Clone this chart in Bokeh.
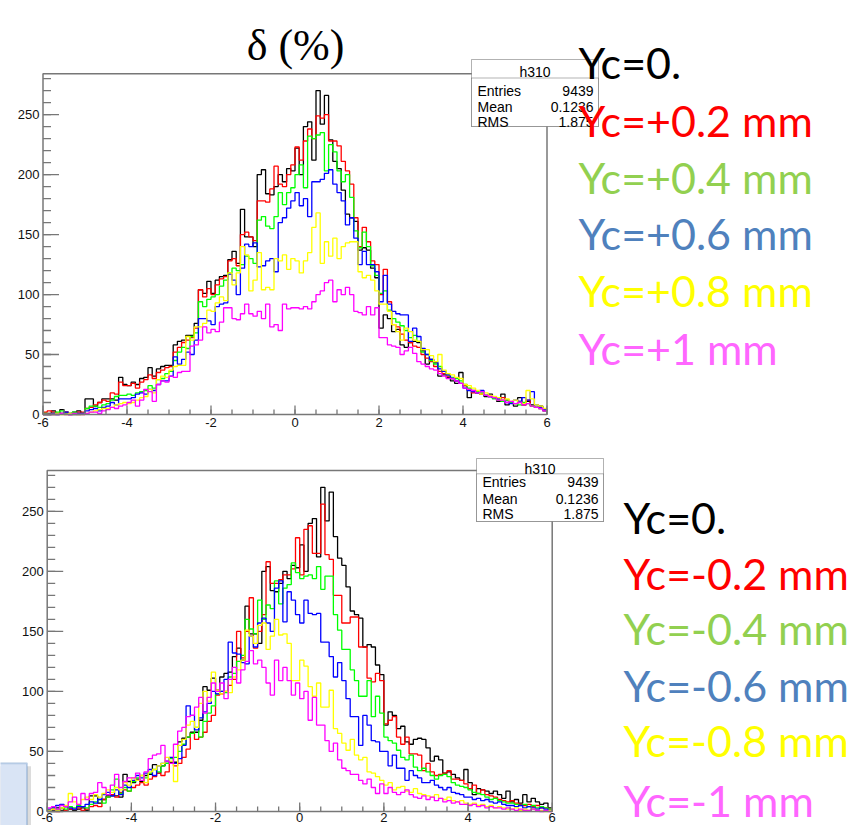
import numpy as np
from bokeh.plotting import figure
from bokeh.layouts import column
from bokeh.models import Label, BoxAnnotation, Range1d
from bokeh.core.properties import value
from bokeh.embed import file_html
from bokeh.resources import INLINE

# 120 bins of width 0.1 between -6 and 6 (delta in %)
X_MIN, X_MAX, Y_MAX = -6.0, 6.0, 284.0
bin_edges = np.round(np.linspace(X_MIN, X_MAX, 121), 2)

# ---- reference histogram h310 (Yc = 0), shared by both panels ----
yc_0 = [1, 1, 3, 1, 4, 2, 1, 2, 3, 1,
        13, 13, 7, 10, 13, 13, 13, 12, 31, 25,
        24, 27, 25, 30, 31, 39, 32, 38, 40, 41,
        41, 58, 61, 62, 66, 66, 76, 104, 101, 111,
        101, 112, 115, 116, 129, 136, 126, 171, 148, 148,
        140, 200, 204, 184, 183, 190, 200, 194, 205, 203,
        222, 200, 240, 244, 212, 270, 242, 266, 229, 211,
        205, 187, 167, 164, 161, 137, 139, 137, 122, 114,
        72, 83, 80, 69, 71, 58, 56, 60, 61, 60,
        53, 42, 46, 43, 32, 33, 31, 28, 26, 35,
        24, 14, 19, 18, 17, 15, 17, 14, 11, 17,
        8, 10, 7, 14, 8, 11, 8, 6, 7, 3]

# ---- positive offsets ----
yc_p02 = [2, 3, 2, 1, 1, 2, 0, 1, 2, 2,
          5, 6, 8, 10, 12, 11, 18, 17, 27, 24,
          24, 26, 22, 27, 29, 33, 30, 35, 37, 39,
          40, 52, 56, 60, 62, 64, 72, 104, 98, 105,
          100, 108, 113, 115, 128, 130, 124, 150, 152, 148,
          145, 178, 178, 177, 188, 207, 192, 190, 200, 208,
          223, 212, 228, 238, 230, 249, 247, 250, 228, 228,
          224, 211, 203, 192, 164, 140, 156, 144, 128, 125,
          100, 121, 94, 75, 73, 67, 62, 60, 57, 56,
          50, 47, 44, 40, 36, 34, 32, 30, 28, 26,
          24, 21, 18, 19, 17, 16, 15, 14, 12, 14,
          12, 10, 9, 11, 8, 12, 7, 6, 5, 4]

yc_p04 = [1, 0, 1, 2, 3, 1, 1, 2, 0, 1,
          5, 7, 7, 6, 8, 9, 12, 15, 16, 16,
          17, 16, 18, 19, 20, 24, 22, 29, 30, 34,
          36, 45, 52, 56, 55, 65, 68, 94, 90, 96,
          98, 100, 107, 112, 118, 122, 120, 125, 132, 130,
          126, 162, 165, 157, 155, 165, 185, 175, 185, 189,
          200, 208, 189, 232, 230, 233, 235, 203, 225, 219,
          203, 194, 200, 181, 153, 139, 152, 140, 124, 116,
          101, 103, 87, 80, 77, 74, 70, 64, 66, 61,
          52, 50, 45, 42, 40, 36, 33, 31, 30, 28,
          25, 22, 20, 19, 18, 16, 15, 13, 12, 11,
          12, 10, 9, 8, 10, 9, 7, 6, 5, 4]

yc_p06 = [0, 0, 1, 0, 1, 2, 0, 0, 1, 1,
          3, 4, 5, 3, 6, 7, 10, 8, 13, 13,
          13, 14, 17, 18, 17, 21, 20, 25, 28, 28,
          32, 48, 42, 46, 52, 50, 62, 80, 80, 78,
          75, 90, 92, 93, 117, 112, 100, 122, 142, 140,
          143, 123, 124, 128, 130, 119, 160, 164, 172, 178,
          185, 174, 180, 165, 194, 194, 196, 201, 204, 192,
          185, 178, 158, 164, 147, 125, 136, 125, 125, 119,
          94, 116, 92, 86, 84, 83, 83, 61, 72, 65,
          55, 50, 46, 44, 38, 36, 33, 30, 28, 26,
          22, 20, 19, 18, 20, 16, 15, 14, 13, 12,
          10, 9, 12, 11, 14, 12, 19, 8, 6, 4]

yc_p08 = [0, 0, 0, 1, 0, 0, 1, 0, 0, 0,
          1, 2, 3, 4, 5, 5, 6, 8, 9, 10,
          9, 10, 12, 14, 15, 21, 18, 29, 32, 31,
          37, 40, 41, 41, 65, 62, 73, 73, 76, 87,
          86, 93, 98, 95, 118, 108, 118, 140, 133, 103,
          112, 135, 104, 106, 104, 130, 128, 133, 121, 130,
          128, 118, 128, 135, 156, 168, 126, 144, 132, 147,
          130, 140, 143, 144, 144, 119, 114, 116, 112, 103,
          92, 92, 86, 75, 69, 62, 72, 69, 62, 61,
          54, 54, 49, 44, 50, 37, 34, 33, 31, 30,
          25, 24, 22, 20, 17, 18, 16, 15, 14, 12,
          13, 11, 12, 10, 9, 20, 13, 8, 7, 5]

yc_p10 = [0, 0, 0, 0, 1, 0, 0, 1, 0, 0,
          1, 2, 2, 1, 3, 4, 6, 5, 7, 8,
          10, 12, 7, 12, 21, 19, 11, 25, 28, 27,
          32, 31, 35, 36, 36, 57, 58, 62, 73, 68,
          71, 69, 77, 89, 89, 80, 79, 84, 92, 84,
          82, 86, 80, 92, 73, 75, 70, 92, 88, 89,
          89, 88, 90, 88, 94, 100, 103, 110, 112, 94,
          104, 100, 106, 100, 86, 85, 83, 90, 83, 89,
          64, 64, 58, 57, 56, 50, 53, 56, 51, 44,
          42, 40, 38, 37, 34, 32, 30, 30, 28, 26,
          22, 21, 20, 18, 19, 16, 15, 14, 12, 12,
          10, 11, 9, 10, 8, 9, 7, 6, 5, 3]

# ---- negative offsets ----
yc_m02 = [1, 2, 0, 3, 1, 2, 2, 3, 1, 2,
          4, 5, 4, 10, 12, 14, 12, 16, 18, 17,
          20, 22, 24, 22, 27, 29, 32, 30, 33, 40,
          38, 40, 45, 52, 65, 60, 62, 66, 75, 80,
          97, 98, 100, 105, 110, 150, 128, 150, 178, 136,
          150, 164, 208, 190, 190, 193, 197, 197, 202, 228,
          197, 235, 238, 215, 215, 256, 214, 210, 180, 180,
          157, 157, 162, 162, 137, 137, 111, 108, 115, 109,
          73, 76, 79, 62, 56, 62, 48, 48, 47, 34,
          40, 33, 30, 31, 32, 34, 27, 27, 26, 23,
          19, 22, 15, 18, 14, 13, 12, 10, 9, 8,
          9, 7, 6, 5, 6, 4, 5, 3, 3, 2]

yc_m04 = [1, 3, 2, 3, 2, 4, 3, 5, 4, 3,
          6, 8, 10, 7, 12, 18, 27, 15, 20, 17,
          25, 28, 30, 28, 32, 35, 33, 38, 40, 44,
          45, 50, 56, 62, 65, 70, 62, 75, 82, 88,
          98, 100, 99, 112, 115, 125, 130, 160, 152, 148,
          176, 160, 172, 169, 192, 173, 186, 189, 207, 199,
          194, 196, 197, 194, 204, 185, 196, 196, 164, 151,
          135, 135, 118, 109, 96, 96, 109, 79, 96, 82,
          62, 59, 57, 51, 45, 43, 47, 37, 34, 36,
          33, 30, 27, 30, 31, 29, 24, 22, 21, 20,
          18, 16, 15, 14, 12, 10, 11, 9, 8, 7,
          7, 6, 5, 6, 4, 5, 3, 4, 3, 2]

yc_m06 = [2, 3, 5, 6, 4, 3, 2, 4, 4, 6,
          8, 7, 10, 14, 16, 13, 18, 14, 22, 20,
          26, 30, 28, 32, 35, 30, 38, 40, 42, 45,
          40, 44, 55, 88, 80, 68, 78, 83, 90, 100,
          98, 100, 110, 141, 132, 131, 124, 123, 146, 137,
          157, 161, 157, 150, 186, 192, 158, 183, 176, 164,
          157, 176, 165, 164, 165, 141, 141, 129, 112, 124,
          109, 94, 79, 79, 55, 80, 72, 59, 58, 50,
          50, 38, 47, 36, 36, 26, 34, 30, 28, 24,
          24, 26, 22, 20, 18, 20, 16, 15, 14, 12,
          12, 10, 11, 9, 10, 8, 7, 8, 6, 5,
          5, 4, 5, 3, 4, 3, 2, 3, 2, 1]

yc_m08 = [1, 2, 1, 3, 5, 15, 8, 6, 10, 12,
          10, 14, 12, 15, 18, 16, 20, 18, 24, 22,
          28, 26, 30, 24, 33, 35, 38, 40, 45, 42,
          25, 55, 60, 72, 75, 70, 90, 100, 92, 116,
          101, 98, 100, 99, 112, 118, 126, 151, 146, 140,
          155, 157, 135, 146, 160, 147, 148, 140, 109, 109,
          126, 121, 104, 96, 107, 87, 87, 101, 69, 65,
          57, 51, 60, 47, 43, 45, 33, 32, 29, 26,
          22, 24, 18, 20, 21, 17, 16, 19, 15, 14,
          13, 12, 14, 11, 10, 12, 9, 8, 9, 7,
          6, 7, 5, 6, 4, 5, 3, 4, 3, 2,
          2, 3, 1, 2, 1, 2, 1, 1, 0, 1]

yc_m10 = [3, 4, 2, 5, 4, 8, 12, 6, 15, 10,
          15, 16, 24, 20, 14, 22, 31, 20, 25, 28,
          28, 32, 26, 33, 44, 47, 48, 55, 42, 40,
          56, 67, 70, 79, 80, 87, 95, 82, 95, 107,
          100, 107, 94, 110, 120, 107, 118, 125, 134, 123,
          126, 120, 107, 97, 126, 109, 120, 109, 97, 107,
          94, 100, 76, 95, 72, 72, 59, 50, 57, 43,
          36, 34, 31, 31, 26, 23, 27, 20, 15, 23,
          15, 20, 16, 14, 16, 18, 14, 12, 11, 13,
          10, 12, 9, 11, 8, 9, 7, 8, 6, 6,
          5, 6, 4, 5, 3, 4, 3, 3, 2, 3,
          2, 1, 2, 1, 1, 2, 1, 0, 1, 0]

hist_colors = ["black", "#ff0000", "#00ff00", "#0000ff", "#ffff00", "#ff00ff"]
legend_colors = ["black", "#ff0000", "#92d050", "#4f81bd", "#ffff00", "#ff66ff"]
top_series = [yc_0, yc_p02, yc_p04, yc_p06, yc_p08, yc_p10]
bottom_series = [yc_0, yc_m02, yc_m04, yc_m06, yc_m08, yc_m10]
top_legend = ["Yc=0.", "Yc=+0.2 mm", "Yc=+0.4 mm", "Yc=+0.6 mm", "Yc=+0.8 mm", "Yc=+1 mm"]
bottom_legend = ["Yc=0.", "Yc=-0.2 mm", "Yc=-0.4 mm", "Yc=-0.6 mm", "Yc=-0.8 mm", "Yc=-1 mm"]

x_ticks = [-6, -4, -2, 0, 2, 4, 6]
x_minor = [round(v, 1) for v in np.arange(-6, 6.01, 0.5)]
y_ticks = [0, 50, 100, 150, 200, 250]
y_minor = list(range(0, 285, 10))
stats_names = ["Entries", "Mean", "RMS"]
stats_values = ["9439", "0.1236", "1.875"]
hist_name = "h310"

W = 852
FRAME = "#777777"
TICK_FONT = "Liberation Sans"
LEGEND_FONT = "Lato"


class Panel:
    """A ROOT-style pad: canvas pixels <-> data coordinates."""

    def __init__(self, height, left, right, top, bottom):
        self.sx = (right - left) / (X_MAX - X_MIN)
        self.sy = (bottom - top) / Y_MAX
        self.left, self.bottom = left, bottom
        self.p = figure(width=W, height=height,
                        x_range=Range1d(self.xd(0), self.xd(W)),
                        y_range=Range1d(self.yd(height), self.yd(0)),
                        x_axis_location=None, y_axis_location=None,
                        min_border=0, output_backend="svg", toolbar_location=None)
        self.p.grid.visible = False
        self.p.outline_line_color = None
        self.p.background_fill_color = "white"
        self.p.border_fill_color = "white"

    def xd(self, px):
        return X_MIN + (px - self.left) / self.sx

    def yd(self, py):
        return (self.bottom - py) / self.sy

    def draw(self, series):
        p = self.p
        for vals, col in zip(series, hist_colors):
            p.step(x=bin_edges, y=list(vals) + [vals[-1]], mode="after",
                   line_color=col, line_width=1.3)
        # frame box
        p.quad(left=[X_MIN], right=[X_MAX], bottom=[0], top=[Y_MAX],
               fill_alpha=0, line_color=FRAME, line_width=1.5)
        # ticks drawn inside the frame
        for ticks, ln in ((x_minor, 5), (x_ticks, 9)):
            p.segment(x0=ticks, y0=[0] * len(ticks), x1=ticks,
                      y1=[ln / self.sy] * len(ticks), line_color=FRAME, line_width=1.3)
        for ticks, ln in ((y_minor, 8), (y_ticks, 16)):
            p.segment(x0=[X_MIN] * len(ticks), y0=ticks,
                      x1=[X_MIN + ln / self.sx] * len(ticks), y1=ticks,
                      line_color=FRAME, line_width=1.3)

    def tick_labels(self, x_standoff):
        p = self.p
        p.text(x=x_ticks, y=[-x_standoff / self.sy] * len(x_ticks),
               text=[str(t) for t in x_ticks], text_align="center",
               text_baseline="top", text_font=value(TICK_FONT),
               text_font_size=value("13px"), text_color="#111111")
        p.text(x=[X_MIN - 3.5 / self.sx] * len(y_ticks), y=y_ticks,
               text=[str(t) for t in y_ticks], text_align="right",
               text_baseline="middle", text_font=value(TICK_FONT),
               text_font_size=value("13px"), text_color="#111111")

    def label(self, px, py, text, **kw):
        kw.setdefault("text_color", "black")
        self.p.add_layout(Label(x=self.xd(px), y=self.yd(py), text=text,
                                text_baseline="alphabetic", **kw))

    def box(self, l, r, t, b, **kw):
        self.p.add_layout(BoxAnnotation(left=self.xd(l), right=self.xd(r),
                                        top=self.yd(t), bottom=self.yd(b), **kw))

    def stats(self, l, r, t, sep, b, title_base, rows_base):
        self.box(l, r, t, b, fill_color="white", fill_alpha=1.0,
                 line_color="black", line_width=1)
        self.box(l, r, sep, b, fill_color="white", fill_alpha=1.0,
                 line_color="black", line_width=1)
        self.label((l + r) / 2, title_base, hist_name, text_font=TICK_FONT,
                   text_font_size="14px", text_align="center")
        for name, val, yb in zip(stats_names, stats_values, rows_base):
            self.label(l + 6, yb, name, text_font=TICK_FONT,
                       text_font_size="14px", text_align="left")
            self.label(r - 5, yb, val, text_font=TICK_FONT,
                       text_font_size="14px", text_align="right")

    def legend(self, texts, px, bases):
        for txt, col, yb in zip(texts, legend_colors, bases):
            self.label(px, yb, txt, text_font=LEGEND_FONT, text_font_size="43px",
                       text_color=col, text_align="left")


# upper pad: positive Yc offsets
top = Panel(450, 42.5, 546.5, 73.3, 414.0)
top.draw(top_series)
top.tick_labels(3.5)
top.label(295, 45, "\u03b4 (%)", text_font="Liberation Serif",
          text_font_size="44px", text_align="center")
top.stats(471, 598, 59, 77.5, 126, 71.5, [90, 106.5, 121.5])
top.legend(top_legend, 578, [62, 120, 177, 233, 290, 348])

# lower pad: negative Yc offsets
bottom = Panel(375, 46.7, 551.7, 20.0, 361.0)
bottom.draw(bottom_series)
bottom.tick_labels(1.5)
bottom.box(-4, 30.5, 315.7, 390, fill_color="#9a9a9a", fill_alpha=0.35, line_color=None)
bottom.box(-4, 26.5, 312.7, 390, fill_color="#d9e4f5", fill_alpha=1.0,
           line_color="#4f81bd", line_width=2)
bottom.stats(476, 603, 8, 23.3, 71, 18, [31.7, 48.3, 63.3])
bottom.legend(bottom_legend, 623, [67, 123, 178, 235, 290, 350])

layout = column(top.p, bottom.p, spacing=0)
open("out.html", "w").write(file_html(layout, INLINE))
